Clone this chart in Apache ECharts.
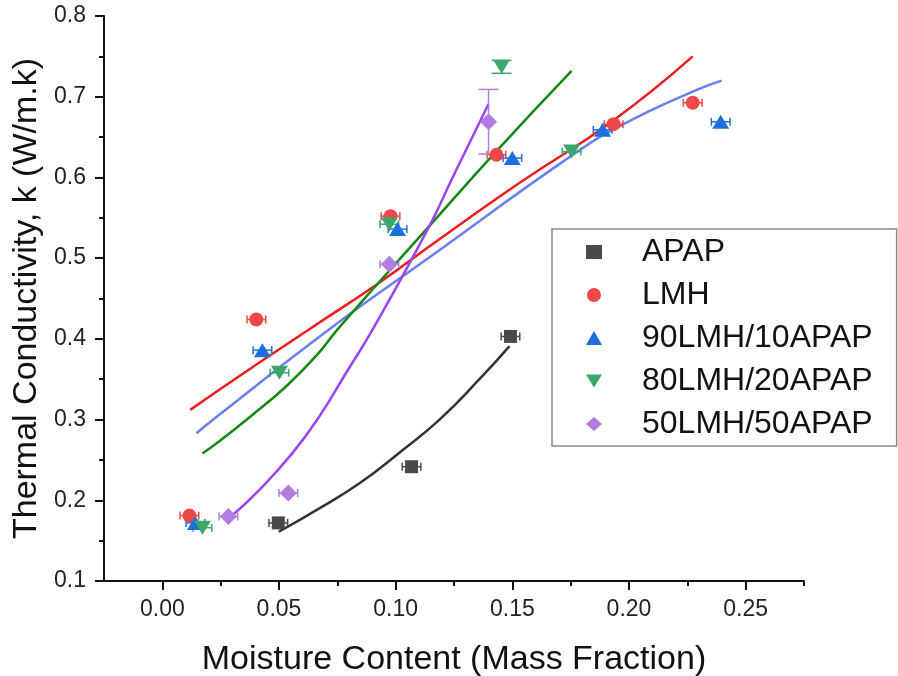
<!DOCTYPE html>
<html>
<head>
<meta charset="utf-8">
<title>Thermal Conductivity</title>
<script src="https://cdn.jsdelivr.net/npm/echarts@6/dist/echarts.min.js"></script>
<style>
	html, body { margin: 0; padding: 0; background: #fff; }
	#chart { width: 898px; height: 676px; }
</style>
</head>
<body>
<div id="chart"></div>
<script>
// measured points (x = moisture mass fraction, y = k)
var apapX = [0.0497, 0.1068, 0.1492];
var apapY = [0.172, 0.2416, 0.403];
var lmhX = [0.0116, 0.0403, 0.0978, 0.1432, 0.1934, 0.2273];
var lmhY = [0.181, 0.424, 0.552, 0.628, 0.666, 0.6925];
var m90X = [0.0142, 0.0429, 0.1008, 0.150, 0.1887, 0.2393];
var m90Y = [0.172, 0.386, 0.536, 0.624, 0.659, 0.669];
var m80X = [0.0172, 0.0502, 0.0973, 0.1454, 0.1754];
var m80Y = [0.166, 0.358, 0.542, 0.737, 0.632];
var m50X = [0.0283, 0.0540, 0.0973, 0.1398];
var m50Y = [0.180, 0.209, 0.4925, 0.669];

// error bars (x err, y err)
var apapXErr = [0.004, 0.004, 0.004];
var apapYErr = [0, 0, 0];
var lmhXErr = [0.004, 0.004, 0.004, 0.004, 0.004, 0.004];
var lmhYErr = [0, 0, 0, 0, 0, 0];
var m90XErr = [0.004, 0.004, 0.004, 0.004, 0.004, 0.004];
var m90YErr = [0, 0, 0, 0, 0, 0];
var m80XErr = [0.004, 0.004, 0.004, 0, 0.004];
var m80YErr = [0, 0, 0, 0.008, 0];
var m50XErr = [0.004, 0.004, 0.004, 0];
var m50YErr = [0, 0, 0, 0.04];

// fitted curves
var apapFitX = [0.0499, 0.0673, 0.0845, 0.1016, 0.1188, 0.1359, 0.1488];
var apapFitY = [0.161, 0.190, 0.221, 0.259, 0.300, 0.350, 0.391];
var lmhFitX = [0.012, 0.0244, 0.063, 0.0922, 0.119, 0.153, 0.193, 0.2273];
var lmhFitY = [0.312, 0.337, 0.412, 0.468, 0.524, 0.593, 0.670, 0.750];
var m90FitX = [0.0146, 0.0244, 0.0716, 0.1145, 0.1754, 0.197, 0.227, 0.2397];
var m90FitY = [0.283, 0.306, 0.412, 0.501, 0.627, 0.665, 0.706, 0.720];
var m80FitX = [0.0172, 0.0244, 0.0387, 0.0530, 0.0659, 0.0752, 0.0922, 0.1145, 0.143, 0.1754];
var m80FitY = [0.258, 0.273, 0.306, 0.341, 0.379, 0.412, 0.468, 0.540, 0.632, 0.732];
var m50FitX = [0.0287, 0.0416, 0.0559, 0.0673, 0.0788, 0.0902, 0.1145, 0.1244, 0.1398];
var m50FitY = [0.178, 0.213, 0.259, 0.304, 0.358, 0.412, 0.540, 0.600, 0.691];

// axis ticks
var xMajorTicks = [0, 0.05, 0.10, 0.15, 0.20, 0.25];
var xMinorTicks = [0.025, 0.075, 0.125, 0.175, 0.225, 0.275];

var names = ['APAP', 'LMH', '90LMH/10APAP', '80LMH/20APAP', '50LMH/50APAP'];

var FONT = '"Liberation Sans", Arial, sans-serif';
var DOWN_TRI = 'path://M0,0 L20,0 L10,16 Z';

function zip() {
	var args = arguments, out = [];
	for (var i = 0; i < args[0].length; i++) {
		var row = [];
		for (var j = 0; j < args.length; j++) row.push(args[j][i]);
		out.push(row);
	}
	return out;
}

function renderErr(params, api) {
	var x = api.value(0), y = api.value(1), xe = api.value(2), ye = api.value(3);
	var color = api.visual('color');
	var st = { stroke: color, lineWidth: 1.5 };
	var kids = [];
	if (xe > 0) {
		var l = api.coord([x - xe, y]), r = api.coord([x + xe, y]);
		kids.push({ type: 'line', shape: { x1: l[0], y1: l[1], x2: r[0], y2: r[1] }, style: st });
		kids.push({ type: 'line', shape: { x1: l[0], y1: l[1] - 4, x2: l[0], y2: l[1] + 4 }, style: st });
		kids.push({ type: 'line', shape: { x1: r[0], y1: r[1] - 4, x2: r[0], y2: r[1] + 4 }, style: st });
	}
	if (ye > 0) {
		var t = api.coord([x, y + ye]), b = api.coord([x, y - ye]);
		kids.push({ type: 'line', shape: { x1: t[0], y1: t[1], x2: b[0], y2: b[1] }, style: st });
		kids.push({ type: 'line', shape: { x1: t[0] - 10, y1: t[1], x2: t[0] + 10, y2: t[1] }, style: st });
		kids.push({ type: 'line', shape: { x1: b[0] - 10, y1: b[1], x2: b[0] + 10, y2: b[1] }, style: st });
	}
	return { type: 'group', children: kids };
}

var sets = [
	{ x: apapX, y: apapY, xe: apapXErr, ye: apapYErr, fx: apapFitX, fy: apapFitY,
		color: '#4a4a4a', line: '#333333', symbol: 'rect', size: 13 },
	{ x: lmhX, y: lmhY, xe: lmhXErr, ye: lmhYErr, fx: lmhFitX, fy: lmhFitY,
		color: '#f04848', line: '#ee1c1c', symbol: 'circle', size: 14 },
	{ x: m90X, y: m90Y, xe: m90XErr, ye: m90YErr, fx: m90FitX, fy: m90FitY,
		color: '#1d6fdc', line: '#6b7ff0', symbol: 'triangle', size: [17, 14] },
	{ x: m80X, y: m80Y, xe: m80XErr, ye: m80YErr, fx: m80FitX, fy: m80FitY,
		color: '#3aa86b', line: '#128a12', symbol: DOWN_TRI, size: [17, 14] },
	{ x: m50X, y: m50Y, xe: m50XErr, ye: m50YErr, fx: m50FitX, fy: m50FitY,
		color: '#b17de0', line: '#9b45f2', symbol: 'diamond', size: [17, 17] }
];

var series = [];
var legendData = [];
sets.forEach(function(s, i) {
	series.push({
		type: 'line',
		data: zip(s.fx, s.fy),
		smooth: 0.5,
		showSymbol: false,
		silent: true,
		lineStyle: { color: s.line, width: 2.5 },
		z: 2
	});
	series.push({
		type: 'custom',
		renderItem: renderErr,
		data: zip(s.x, s.y, s.xe, s.ye),
		itemStyle: { color: s.color },
		silent: true,
		z: 3
	});
	series.push({
		name: names[i],
		type: 'scatter',
		data: zip(s.x, s.y),
		symbol: s.symbol,
		symbolSize: s.size,
		itemStyle: { color: s.color, opacity: 1 },
		z: 4
	});
	legendData.push({ name: names[i], icon: s.symbol });
});

var option = {
	backgroundColor: '#fff',
	animation: false,
	textStyle: { fontFamily: FONT },
	grid: { left: 104, right: 94, top: 16, bottom: 95, outerBoundsMode: 'none', containLabel: false },
	legend: {
		data: legendData,
		orient: 'vertical',
		left: 552,
		top: 229,
		padding: [6, 24, 5, 34],
		itemWidth: 16,
		itemHeight: 14,
		itemGap: 9,
		borderColor: '#8a8a8a',
		borderWidth: 1.5,
		backgroundColor: '#fff',
		selectedMode: false,
		textStyle: { fontFamily: FONT, fontSize: 32, color: '#111', lineHeight: 34, padding: [0, 0, 0, 35] }
	},
	xAxis: [{
		type: 'value',
		min: -0.025,
		max: 0.275,
		position: 'bottom',
		name: 'Moisture Content (Mass Fraction)',
		nameLocation: 'middle',
		nameGap: 62,
		nameTextStyle: { fontFamily: FONT, fontSize: 34, color: '#111' },
		axisLine: { onZero: false, lineStyle: { color: '#111', width: 2 } },
		axisTick: { show: true, customValues: xMajorTicks, length: 9, lineStyle: { color: '#111', width: 2 } },
		axisLabel: {
			customValues: xMajorTicks,
			margin: 17,
			fontFamily: FONT,
			fontSize: 23,
			color: '#222',
			formatter: function(v) { return v.toFixed(2); }
		},
		splitLine: { show: false }
	}, {
		type: 'value',
		min: -0.025,
		max: 0.275,
		position: 'bottom',
		axisLine: { show: false, onZero: false },
		axisTick: { show: true, customValues: xMinorTicks, length: 5, lineStyle: { color: '#111', width: 2 } },
		axisLabel: { show: false },
		splitLine: { show: false }
	}],
	yAxis: {
		type: 'value',
		min: 0.1,
		max: 0.8,
		interval: 0.1,
		name: 'Thermal Conductivity, k (W/m.k)',
		nameLocation: 'middle',
		nameGap: 58,
		nameTextStyle: { fontFamily: FONT, fontSize: 34, color: '#111' },
		axisLine: { show: true, onZero: false, lineStyle: { color: '#111', width: 2 } },
		axisTick: { show: true, length: 9, lineStyle: { color: '#111', width: 2 } },
		minorTick: { show: true, splitNumber: 2, length: 5, lineStyle: { color: '#111', width: 2 } },
		axisLabel: {
			margin: 18,
			fontFamily: FONT,
			fontSize: 23,
			color: '#222',
			formatter: function(v) { return v.toFixed(1); }
		},
		splitLine: { show: false },
		minorSplitLine: { show: false }
	},
	series: series
};

var chart = echarts.init(document.getElementById('chart'));
chart.setOption(option);
</script>
</body>
</html>
